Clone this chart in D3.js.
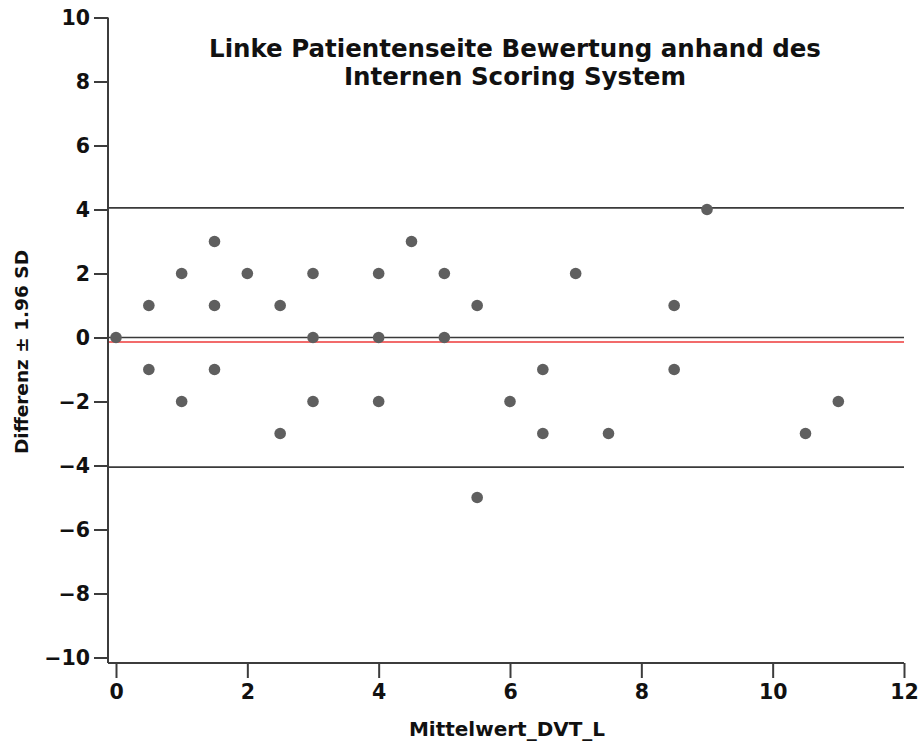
<!DOCTYPE html>
<html>
<head>
<meta charset="utf-8">
<script src="https://cdn.jsdelivr.net/npm/d3@7"></script>
<style>
  html, body { margin: 0; padding: 0; background: #fff; }
  svg { display: block; }
  text { font-family: "DejaVu Sans", "Open Sans", sans-serif; font-weight: bold; fill: #111; }
</style>
</head>
<body>
<svg id="chart" width="920" height="745"></svg>
<script>
// Bland-Altman data: mean of both ratings (x) and their difference (y)
const meanValues = [0, 0.5, 0.5, 1, 1, 1.5, 1.5, 1.5, 2, 2.5, 2.5, 3, 3, 3, 4, 4, 4, 4.5, 5, 5, 5.5, 5.5, 6, 6.5, 6.5, 7, 7.5, 8.5, 8.5, 9, 10.5, 11];
const diffValues = [0, 1, -1, 2, -2, 3, 1, -1, 2, 1, -3, 2, 0, -2, 2, 0, -2, 3, 2, 0, 1, -5, -2, -1, -3, 2, -3, 1, -1, 4, -3, -2];

// Reference lines: zero, mean difference, limits of agreement (±1.96 SD)
const zeroLine = 0;
const meanDiff = -0.14;
const limits = [4.05, -4.05];

const xTicks = [0, 2, 4, 6, 8, 10, 12];
const yTicks = [10, 8, 6, 4, 2, 0, -2, -4, -6, -8, -10];

const titleLines = ["Linke Patientenseite Bewertung anhand des", "Internen Scoring System"];
const xLabel = "Mittelwert_DVT_L";
const yLabel = "Differenz \u00b1 1.96 SD";

const svg = d3.select("#chart");

const x = d3.scaleLinear().domain([0, 12]).range([116, 904]);
const y = d3.scaleLinear().domain([-10, 10]).range([657.5, 17.5]);
const axisX0 = 108, axisY0 = 663;

const axisColor = "#3c3c3c";

// Horizontal reference lines
svg.selectAll("line.limit")
  .data([zeroLine, ...limits])
  .join("line")
  .attr("class", "limit")
  .attr("x1", axisX0).attr("x2", x(12))
  .attr("y1", d => y(d)).attr("y2", d => y(d))
  .attr("stroke", "#3a3a3a").attr("stroke-width", 1.6);

svg.append("line")
  .attr("x1", axisX0).attr("x2", x(12))
  .attr("y1", y(meanDiff)).attr("y2", y(meanDiff))
  .attr("stroke", "#ee3a3a").attr("stroke-width", 1.4);

// Points
svg.selectAll("circle.pt")
  .data(meanValues.map((m, i) => [m, diffValues[i]]))
  .join("circle")
  .attr("class", "pt")
  .attr("cx", d => x(d[0]))
  .attr("cy", d => y(d[1]))
  .attr("r", 5.8)
  .attr("fill", "#5f5f5f");

// Y axis
const yAxis = svg.append("g")
  .attr("transform", `translate(${axisX0},0)`)
  .call(d3.axisLeft(y).tickValues(yTicks).tickSize(14).tickPadding(4).tickSizeOuter(0));
yAxis.select(".domain").attr("d", `M0,${y(10)}V${axisY0}`);

// X axis
const xAxis = svg.append("g")
  .attr("transform", `translate(0,${axisY0})`)
  .call(d3.axisBottom(x).tickValues(xTicks).tickSize(15).tickPadding(6).tickSizeOuter(0));
xAxis.select(".domain").attr("d", `M${axisX0},0H${x(12)}`);

[yAxis, xAxis].forEach(g => {
  g.select(".domain").attr("stroke", axisColor).attr("stroke-width", 2);
  g.selectAll(".tick line").attr("stroke", axisColor).attr("stroke-width", 2);
  g.selectAll(".tick text")
    .style("font-family", "'DejaVu Sans', sans-serif")
    .style("font-weight", "bold")
    .style("font-size", "20.5px")
    .attr("fill", "#111");
});

// Title
svg.append("text")
  .attr("x", 515).attr("y", 57)
  .attr("text-anchor", "middle")
  .style("font-size", "24.5px")
  .selectAll("tspan")
  .data(titleLines)
  .join("tspan")
  .attr("x", 515)
  .attr("dy", (d, i) => i === 0 ? 0 : 28)
  .text(d => d);

// Axis titles
svg.append("text")
  .attr("x", 507).attr("y", 736)
  .attr("text-anchor", "middle")
  .style("font-size", "20px")
  .text(xLabel);

svg.append("text")
  .attr("transform", "translate(28,352) rotate(-90)")
  .attr("text-anchor", "middle")
  .style("font-size", "18.5px")
  .text(yLabel);
</script>
</body>
</html>
